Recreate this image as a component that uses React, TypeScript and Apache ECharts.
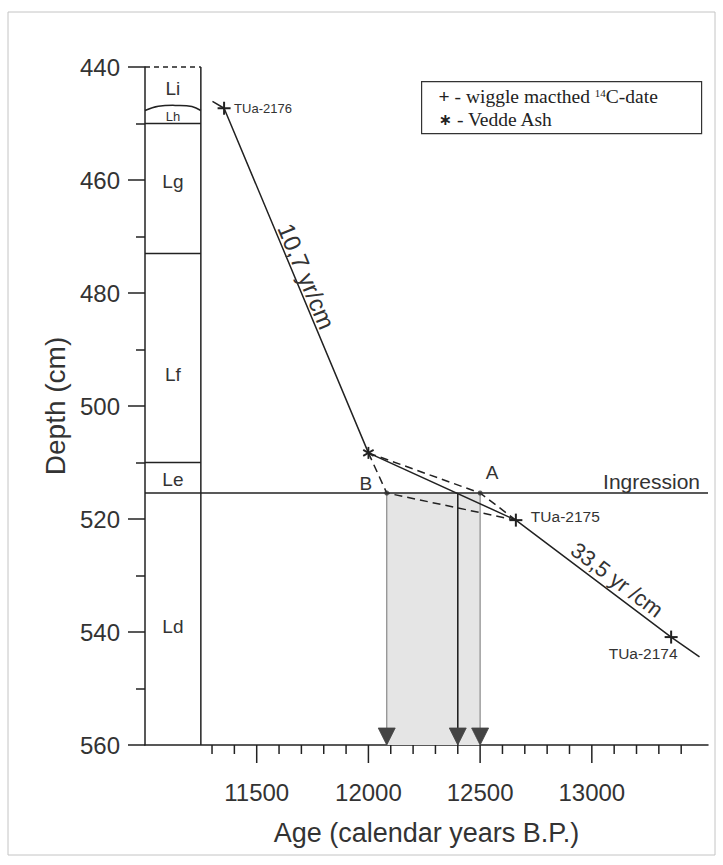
import React, { useEffect, useRef } from 'react';
import * as echarts from 'echarts';

// ---------- data ----------
const xTickValues = [11300, 11400, 11500, 11600, 11700, 11800, 11900, 12000, 12100, 12200, 12300, 12400, 12500, 12600, 12700, 12800, 12900, 13000, 13100, 13200, 13300, 13400];
const xMajorTicks = [11500, 12000, 12500, 13000];

const lithoNames = ['Li', 'Lh', 'Lg', 'Lf', 'Le', 'Ld'];
const lithoLabelDepths = [443.8, 448.8, 460.3, 494.5, 513.0, 539.0];
const lithoBoundaries = [450, 473, 510];
const columnAges = [11000, 11250];
const wavyAges = [11000, 11060, 11150, 11210, 11250];
const wavyDepths = [447.7, 446.95, 446.8, 447.0, 447.7];
const ingressionDepth = 515.4;

const sampleNames = ['TUa-2176', 'TUa-2175', 'TUa-2174'];
const sampleAges = [11354, 12660, 13355];
const sampleDepths = [447.3, 520.2, 540.9];
const veddeAge = 12000;
const veddeDepth = 508.3;
const lineStart = [11302, 446.1];
const lineEnd = [13482, 544.4];
const pointB = [12082, ingressionDepth];
const pointA = [12500, ingressionDepth];
const arrowAges = [12082, 12400, 12500];
const rateLabels = ['10,7 yr/cm', '33,5 yr /cm'];

// ---------- styles ----------
const ink = '#222';
const txt = '#333';
const sans = 'Liberation Sans, Arial, Helvetica, sans-serif';
const serif = 'Liberation Serif, Times New Roman, serif';
const X_MIN = 11000;
const X_MAX = 13520;
const Y_MIN = 440;
const Y_MAX = 560;

const sampleLabelStyle = [
  { dx: 10, dy: 0, align: 'left', size: 13 },
  { dx: 15, dy: -4, align: 'left', size: 15.5 },
  { dx: -28, dy: 16, align: 'center', size: 15.5 },
];
const rateLabelPlacement = [
  { t: 0.5, off: 11, size: 24 },
  { t: 0.6, off: 13, size: 22 },
];

function textStyle(text: string, size: number, align = 'center', vAlign = 'middle', family = sans) {
  return {
    text,
    fill: txt,
    fontSize: size,
    fontFamily: family,
    align,
    verticalAlign: vAlign,
    textAlign: align,
    textVerticalAlign: vAlign,
  };
}

function buildOption() {
  const columnLines: number[][] = [
    [columnAges[1], Y_MIN, columnAges[1], Y_MAX, 0],
    [columnAges[0], Y_MIN, columnAges[1], Y_MIN, 1],
    ...lithoBoundaries.map((b) => [columnAges[0], b, columnAges[1], b, 0]),
    [columnAges[0], ingressionDepth, X_MAX, ingressionDepth, 0],
  ];

  const segRender = (params: any, api: any) => {
    const p1 = api.coord([api.value(0), api.value(1)]);
    const p2 = api.coord([api.value(2), api.value(3)]);
    return {
      type: 'line',
      shape: { x1: p1[0], y1: p1[1], x2: p2[0], y2: p2[1] },
      style: { stroke: ink, lineWidth: 1.5, lineDash: api.value(4) ? [5, 4] : null },
    };
  };

  const legendRich = {
    b: { fontSize: 19.5, lineHeight: 19, fontWeight: 'bold', fontFamily: serif, fill: '#222', color: '#222' },
    n: { fontSize: 19.5, lineHeight: 19, fontFamily: serif, fill: '#222', color: '#222' },
    s: { fontSize: 11, lineHeight: 19, fontFamily: serif, verticalAlign: 'top', fill: '#222', color: '#222' },
    a: { fontSize: 16, lineHeight: 19, fontWeight: 'bold', fontFamily: 'DejaVu Sans, sans-serif', fill: '#222', color: '#222' },
  };

  return {
    animation: false,
    backgroundColor: '#fff',
    grid: { left: 145, right: 15, top: 67, bottom: 120, containLabel: false, outerBoundsMode: 'none' },
    xAxis: {
      type: 'value',
      min: X_MIN,
      max: X_MAX,
      interval: 500,
      axisLine: { show: true, onZero: false, lineStyle: { color: ink, width: 1.5 } },
      axisTick: { show: false },
      splitLine: { show: false },
      axisLabel: {
        margin: 35,
        fontSize: 24,
        fontFamily: sans,
        color: txt,
        formatter: (v: number) => (xMajorTicks.includes(v) ? String(v) : ''),
      },
      name: 'Age (calendar years B.P.)',
      nameLocation: 'middle',
      nameGap: 74,
      nameTextStyle: { fontSize: 27, fontFamily: sans, color: txt },
    },
    yAxis: {
      type: 'value',
      inverse: true,
      min: Y_MIN,
      max: Y_MAX,
      interval: 20,
      axisLine: { show: true, onZero: false, lineStyle: { color: ink, width: 1.5 } },
      axisTick: { show: true, length: 17, lineStyle: { color: ink, width: 1.5 } },
      minorTick: { show: true, splitNumber: 2, length: 9, lineStyle: { color: ink, width: 1.5 } },
      splitLine: { show: false },
      minorSplitLine: { show: false },
      axisLabel: {
        margin: 25,
        fontSize: 24,
        fontFamily: sans,
        color: txt,
        formatter: (v: number) => String(v),
      },
      name: 'Depth (cm)',
      nameLocation: 'middle',
      nameGap: 72,
      nameTextStyle: { fontSize: 28, fontFamily: sans, color: txt },
    },
    graphic: [
      {
        type: 'rect',
        z: -10,
        shape: { x: 8, y: 12, width: 707, height: 843 },
        style: { fill: 'none', stroke: '#c4c4c4', lineWidth: 1 },
      },
      {
        type: 'group',
        left: 421,
        top: 81,
        z: 100,
        children: [
          { type: 'rect', shape: { x: 0, y: 0, width: 280, height: 52 }, style: { fill: '#fff', stroke: '#333', lineWidth: 1.2 } },
          {
            type: 'text',
            x: 17,
            y: 15,
            style: {
              text: '{b|+}{n| - wiggle macthed }{s|14}{n|C-date}',
              fill: '#222',
              fontSize: 19.5,
              lineHeight: 19,
              fontFamily: serif,
              verticalAlign: 'middle',
              textVerticalAlign: 'middle',
              rich: legendRich,
            },
          },
          {
            type: 'text',
            x: 17,
            y: 38,
            style: {
              text: '{a|∗}{n| - Vedde Ash}',
              fill: '#222',
              fontSize: 19.5,
              lineHeight: 19,
              fontFamily: serif,
              verticalAlign: 'middle',
              textVerticalAlign: 'middle',
              rich: legendRich,
            },
          },
        ],
      },
    ],
    series: [
      // shaded interval
      {
        type: 'custom',
        name: 'interval',
        z: 1,
        data: [[pointB[0], ingressionDepth, pointA[0], Y_MAX]],
        renderItem: (params: any, api: any) => {
          const p1 = api.coord([api.value(0), api.value(1)]);
          const p2 = api.coord([api.value(2), api.value(3)]);
          return {
            type: 'rect',
            shape: { x: p1[0], y: p1[1], width: p2[0] - p1[0], height: p2[1] - p1[1] },
            style: { fill: '#e5e5e5' },
          };
        },
      },
      // vertical lines in interval
      {
        type: 'custom',
        name: 'verticals',
        z: 2,
        data: arrowAges.map((a) => [a, ingressionDepth, a, Y_MAX]),
        renderItem: (params: any, api: any) => {
          const p1 = api.coord([api.value(0), api.value(1)]);
          const p2 = api.coord([api.value(2), api.value(3)]);
          const mid = params.dataIndex === 1;
          return {
            type: 'line',
            shape: { x1: p1[0], y1: p1[1], x2: p2[0], y2: p2[1] },
            style: { stroke: mid ? ink : '#8a8a8a', lineWidth: mid ? 1.6 : 1.2 },
          };
        },
      },
      // lithology column
      {
        type: 'custom',
        name: 'column',
        z: 3,
        clip: false,
        data: columnLines,
        renderItem: segRender,
      },
      // wavy Li / Lh boundary
      {
        type: 'custom',
        name: 'wavy',
        z: 3,
        data: [[wavyAges[0], wavyDepths[0]]],
        renderItem: (params: any, api: any) => {
          const pts = wavyAges.map((a, i) => api.coord([a, wavyDepths[i]]));
          return {
            type: 'polyline',
            shape: { points: pts, smooth: 0.4 },
            style: { stroke: ink, lineWidth: 1.5, fill: 'none' },
          };
        },
      },
      // age-depth model
      {
        type: 'line',
        name: 'age-depth',
        z: 4,
        symbol: 'none',
        lineStyle: { color: ink, width: 1.5 },
        data: [
          lineStart,
          [sampleAges[0], sampleDepths[0]],
          [veddeAge, veddeDepth],
          [sampleAges[1], sampleDepths[1]],
          [sampleAges[2], sampleDepths[2]],
          lineEnd,
        ],
      },
      {
        type: 'line',
        name: 'via B',
        z: 4,
        symbol: 'none',
        lineStyle: { color: ink, width: 1.5, type: [8, 5] },
        data: [[veddeAge, veddeDepth], pointB, [sampleAges[1], sampleDepths[1]]],
      },
      {
        type: 'line',
        name: 'via A',
        z: 4,
        symbol: 'none',
        lineStyle: { color: ink, width: 1.5, type: [8, 5] },
        data: [[veddeAge, veddeDepth], pointA, [sampleAges[1], sampleDepths[1]]],
      },
      {
        type: 'scatter',
        name: 'A B',
        z: 5,
        symbolSize: 5,
        itemStyle: { color: '#333' },
        data: [pointB, pointA],
      },
      // wiggle matched dates (+)
      {
        type: 'custom',
        name: 'wiggle matched',
        z: 6,
        data: sampleAges.map((a, i) => [a, sampleDepths[i]]),
        renderItem: (params: any, api: any) => {
          const [x, y] = api.coord([api.value(0), api.value(1)]);
          const h = 6.5;
          return {
            type: 'group',
            children: [
              { type: 'line', shape: { x1: x - h, y1: y, x2: x + h, y2: y }, style: { stroke: ink, lineWidth: 2 } },
              { type: 'line', shape: { x1: x, y1: y - h, x2: x, y2: y + h }, style: { stroke: ink, lineWidth: 2 } },
            ],
          };
        },
      },
      // Vedde Ash (*)
      {
        type: 'custom',
        name: 'Vedde Ash',
        z: 6,
        data: [[veddeAge, veddeDepth]],
        renderItem: (params: any, api: any) => {
          const [x, y] = api.coord([api.value(0), api.value(1)]);
          const r = 6;
          const angles = [90, 30, 150].map((d) => (d * Math.PI) / 180);
          return {
            type: 'group',
            children: angles.map((t) => ({
              type: 'line',
              shape: { x1: x - r * Math.cos(t), y1: y - r * Math.sin(t), x2: x + r * Math.cos(t), y2: y + r * Math.sin(t) },
              style: { stroke: ink, lineWidth: 1.8 },
            })),
          };
        },
      },
      // arrows
      {
        type: 'custom',
        name: 'arrows',
        z: 6,
        clip: false,
        data: arrowAges.map((a) => [a, Y_MAX]),
        renderItem: (params: any, api: any) => {
          const [x, y] = api.coord([api.value(0), api.value(1)]);
          return {
            type: 'polygon',
            shape: { points: [[x, y], [x - 8.5, y - 17], [x + 8.5, y - 17]] },
            style: { fill: '#444', stroke: '#444', lineWidth: 0.8 },
          };
        },
      },
      // x ticks
      {
        type: 'custom',
        name: 'xticks',
        z: 6,
        clip: false,
        data: xTickValues.map((v) => [v, Y_MAX]),
        renderItem: (params: any, api: any) => {
          const [x, y] = api.coord([api.value(0), api.value(1)]);
          const len = xMajorTicks.includes(api.value(0)) ? 18 : 9;
          return {
            type: 'line',
            shape: { x1: x, y1: y, x2: x, y2: y + len },
            style: { stroke: ink, lineWidth: 1.5 },
          };
        },
      },
      // lithology labels
      {
        type: 'custom',
        name: 'litho labels',
        z: 7,
        data: lithoLabelDepths.map((d) => [(columnAges[0] + columnAges[1]) / 2, d]),
        renderItem: (params: any, api: any) => {
          const [x, y] = api.coord([api.value(0), api.value(1)]);
          const size = params.dataIndex === 1 ? 13 : 19;
          return { type: 'text', x, y, style: textStyle(lithoNames[params.dataIndex], size) };
        },
      },
      // sample labels
      {
        type: 'custom',
        name: 'sample labels',
        z: 7,
        data: sampleAges.map((a, i) => [a, sampleDepths[i]]),
        renderItem: (params: any, api: any) => {
          const [x, y] = api.coord([api.value(0), api.value(1)]);
          const s = sampleLabelStyle[params.dataIndex];
          return { type: 'text', x: x + s.dx, y: y + s.dy, style: textStyle(sampleNames[params.dataIndex], s.size, s.align) };
        },
      },
      // A, B, Ingression
      {
        type: 'custom',
        name: 'annotations',
        z: 7,
        clip: false,
        data: [pointB, pointA, [X_MAX, ingressionDepth]],
        renderItem: (params: any, api: any) => {
          const [x, y] = api.coord([api.value(0), api.value(1)]);
          const i = params.dataIndex;
          if (i === 0) return { type: 'text', x: x - 21, y: y - 10, style: textStyle('B', 19) };
          if (i === 1) return { type: 'text', x: x + 12, y: y - 21, style: textStyle('A', 19) };
          return { type: 'text', x: x - 8, y: y - 12, style: textStyle('Ingression', 21, 'right') };
        },
      },
      // rate labels
      {
        type: 'custom',
        name: 'rates',
        z: 7,
        data: [
          [sampleAges[0], sampleDepths[0], veddeAge, veddeDepth],
          [sampleAges[1], sampleDepths[1], sampleAges[2], sampleDepths[2]],
        ],
        renderItem: (params: any, api: any) => {
          const p1 = api.coord([api.value(0), api.value(1)]);
          const p2 = api.coord([api.value(2), api.value(3)]);
          const { t, off, size } = rateLabelPlacement[params.dataIndex];
          const a = Math.atan2(p2[1] - p1[1], p2[0] - p1[0]);
          const cx = p1[0] + (p2[0] - p1[0]) * t + Math.sin(a) * off;
          const cy = p1[1] + (p2[1] - p1[1]) * t - Math.cos(a) * off;
          return { type: 'text', x: cx, y: cy, rotation: -a, style: textStyle(rateLabels[params.dataIndex], size) };
        },
      },
    ],
  };
}

export default function App() {
  const ref = useRef<HTMLDivElement>(null);
  useEffect(() => {
    if (!ref.current) return;
    const chart = echarts.init(ref.current, null, { renderer: 'svg' });
    chart.setOption(buildOption() as any);
    return () => chart.dispose();
  }, []);
  return (
    <div
      ref={ref}
      style={{ position: 'fixed', left: 0, top: 0, width: 723, height: 865, background: '#fff' }}
    />
  );
}
